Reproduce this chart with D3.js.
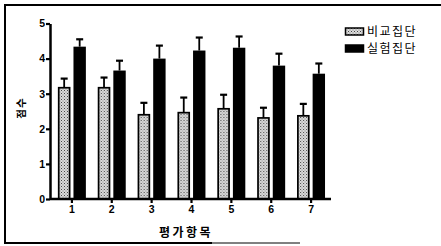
<!DOCTYPE html>
<html>
<head>
<meta charset="utf-8">
<script src="https://cdn.jsdelivr.net/npm/d3@7"></script>
<style>
  body { margin: 0; background: #fff; }
  svg { display: block; font-family: Arial, "Liberation Sans", "Noto Sans CJK KR", sans-serif; }
</style>
</head>
<body>
<div id="chart"></div>
<script>
// data
const items = ['1', '2', '3', '4', '5', '6', '7'];
const groups = ['비교집단', '실험집단'];
const compMean = [3.17, 3.17, 2.40, 2.46, 2.57, 2.31, 2.37];
const compErr = [0.26, 0.29, 0.34, 0.43, 0.40, 0.29, 0.34];
const expMean = [4.34, 3.66, 4.00, 4.23, 4.31, 3.80, 3.57];
const expErr = [0.21, 0.28, 0.37, 0.37, 0.32, 0.34, 0.29];
const yTicks = [0, 1, 2, 3, 4, 5];

const width = 441, height = 246;
const margin = { top: 23.5, left: 50, bottom: 47, right: 108 };

const svg = d3.select('#chart').append('svg')
  .attr('width', width)
  .attr('height', height);

// stipple pattern for the comparison group
const defs = svg.append('defs');
const pat = defs.append('pattern')
  .attr('id', 'dots')
  .attr('width', 3)
  .attr('height', 3)
  .attr('patternUnits', 'userSpaceOnUse');
pat.append('rect').attr('width', 3).attr('height', 3).attr('fill', '#dcdcdc');
pat.append('rect').attr('x', 0).attr('y', 0).attr('width', 1).attr('height', 1).attr('fill', '#444');
pat.append('rect').attr('x', 1.5).attr('y', 1.5).attr('width', 1).attr('height', 1).attr('fill', '#777');

// frame
const frame = svg.append('g').attr('stroke', '#000').attr('fill', 'none');
frame.append('line').attr('x1', 4).attr('x2', 441).attr('y1', 5).attr('y2', 5).attr('stroke-width', 2);
frame.append('line').attr('x1', 5).attr('x2', 5).attr('y1', 5).attr('y2', 244).attr('stroke-width', 2);
frame.append('line').attr('x1', 4).attr('x2', 212).attr('y1', 243).attr('y2', 243).attr('stroke-width', 2);
frame.append('line').attr('x1', 212).attr('x2', 300).attr('y1', 243).attr('y2', 243).attr('stroke-width', 1);

const plotBottom = height - margin.bottom;

// scales
const x0 = d3.scaleBand()
  .domain(items)
  .range([margin.left, 333])
  .paddingInner(0.3)
  .paddingOuter(0.2);
const x1 = d3.scaleBand()
  .domain(groups)
  .range([0, x0.bandwidth()])
  .paddingInner(0.2);
const y = d3.scaleLinear()
  .domain([0, 5])
  .range([plotBottom, margin.top]);

const rows = items.map((d, i) => ({
  item: d,
  vals: [
    { g: groups[0], v: compMean[i], e: compErr[i] },
    { g: groups[1], v: expMean[i], e: expErr[i] }
  ]
}));

// bars
const grp = svg.append('g').selectAll('g')
  .data(rows)
  .join('g')
  .attr('transform', d => 'translate(' + x0(d.item) + ',0)');

// error bars (upper only)
grp.selectAll('g.err')
  .data(d => d.vals)
  .join('g')
  .attr('class', 'err')
  .each(function(d) {
    const cx = x1(d.g) + x1.bandwidth() / 2;
    const g = d3.select(this).attr('stroke', '#000');
    g.append('line')
      .attr('x1', cx).attr('x2', cx)
      .attr('y1', y(d.v)).attr('y2', y(d.v + d.e))
      .attr('stroke-width', 1.8);
    g.append('line')
      .attr('x1', cx - 3.5).attr('x2', cx + 3.5)
      .attr('y1', y(d.v + d.e)).attr('y2', y(d.v + d.e))
      .attr('stroke-width', 2.2);
  });

grp.selectAll('rect')
  .data(d => d.vals)
  .join('rect')
  .attr('x', d => x1(d.g) + (d.g === groups[0] ? 0.75 : 0))
  .attr('y', d => y(d.v))
  .attr('width', d => x1.bandwidth() - (d.g === groups[0] ? 1.5 : 0))
  .attr('height', d => y(0) - y(d.v))
  .attr('fill', d => d.g === groups[0] ? 'url(#dots)' : '#000')
  .attr('stroke', d => d.g === groups[0] ? '#000' : 'none')
  .attr('stroke-width', 1.7);

// y axis
const yAxis = svg.append('g')
  .attr('transform', 'translate(' + margin.left + ',0)')
  .call(d3.axisLeft(y).tickValues(yTicks).tickFormat(d3.format('d')).tickSize(4).tickSizeOuter(0));
yAxis.select('.domain').attr('stroke-width', 2.5);
yAxis.selectAll('.tick line').attr('stroke-width', 2.2);
yAxis.selectAll('.tick text')
  .attr('font-size', 10.5)
  .attr('font-weight', 'bold')
  .attr('fill', '#000')
  .attr('x', -5);

// x axis
const xAxis = svg.append('g')
  .attr('transform', 'translate(0,' + plotBottom + ')')
  .call(d3.axisBottom(x0).tickSize(4).tickSizeOuter(0));
xAxis.select('.domain')
  .attr('d', 'M' + margin.left + ',0H331')
  .attr('stroke-width', 2.5);
xAxis.selectAll('.tick line').attr('stroke-width', 2.2);
xAxis.selectAll('.tick text')
  .attr('font-size', 10.5)
  .attr('font-weight', 'bold')
  .attr('fill', '#000')
  .attr('y', 7);

// axis titles
svg.append('text')
  .attr('transform', 'translate(25,' + 108 + ') rotate(-90)')
  .attr('text-anchor', 'middle')
  .attr('font-family', '"Noto Sans CJK KR", sans-serif')
  .attr('font-size', 10.5)
  .attr('font-weight', 'bold')
  .attr('letter-spacing', 1)
  .text('점수');

svg.append('text')
  .attr('x', 186)
  .attr('y', 237)
  .attr('text-anchor', 'middle')
  .attr('font-family', '"Noto Sans CJK KR", sans-serif')
  .attr('font-size', 12)
  .attr('font-weight', 'bold')
  .attr('letter-spacing', 2.5)
  .text('평가항목');

// legend
const legend = svg.append('g')
  .selectAll('g')
  .data(groups)
  .join('g')
  .attr('transform', (d, i) => 'translate(345,' + (28 + i * 17) + ')');
legend.append('rect')
  .attr('x', 0.5).attr('y', 0)
  .attr('width', 18).attr('height', 7)
  .attr('fill', (d, i) => i === 0 ? 'url(#dots)' : '#000')
  .attr('stroke', '#000')
  .attr('stroke-width', 1.5);
legend.append('text')
  .attr('x', 22)
  .attr('y', 8)
  .attr('font-family', '"Noto Sans CJK KR", sans-serif')
  .attr('font-size', 12)
  .attr('letter-spacing', 1.5)
  .text(d => d);
</script>
</body>
</html>
